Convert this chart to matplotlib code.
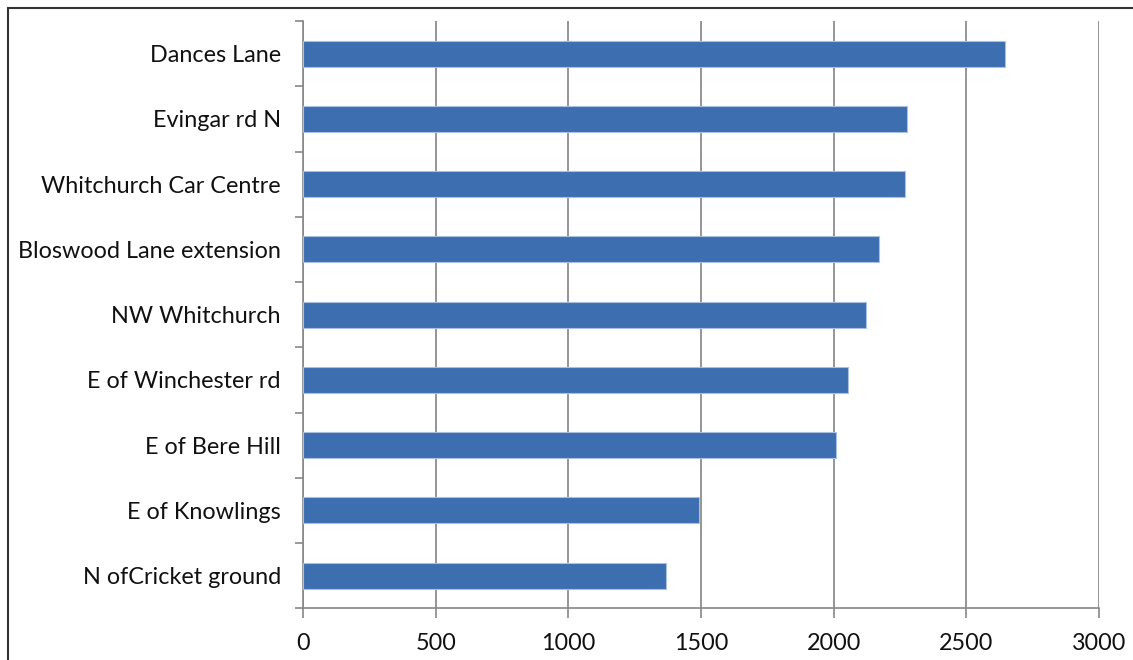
import matplotlib.pyplot as plt
import numpy as np
from matplotlib.patches import Rectangle

sites = ['Dances Lane', 'Evingar rd N', 'Whitchurch Car Centre',
         'Bloswood Lane extension', 'NW Whitchurch', 'E of Winchester rd',
         'E of Bere Hill', 'E of Knowlings', 'N ofCricket ground']
values = [2646, 2277, 2268, 2172, 2120, 2055, 2010, 1493, 1368]
xticks = [0, 500, 1000, 1500, 2000, 2500, 3000]

plt.rcParams['font.family'] = ['Lato', 'DejaVu Sans']

fig = plt.figure(figsize=(11.33, 6.6), dpi=100)
ax = fig.add_axes([303 / 1133, 1 - 608.3 / 660, (1099 - 303) / 1133, (608.3 - 21) / 660])

n = len(sites)
ypos = np.arange(n)[::-1]
ax.barh(ypos, values, height=0.4, color='#3D6EB0', edgecolor='#A9C0E0',
        linewidth=0.8, zorder=3)

ax.set_xlim(0, 3000)
ax.set_ylim(-0.5, n - 0.5)
ax.set_xticks(xticks)
ax.set_xticklabels([str(v) for v in xticks], fontsize=16.8, color='#111111')
ax.set_yticks(ypos)
ax.set_yticklabels(sites, fontsize=16.8, color='#111111')
ax.tick_params(axis='y', length=0, pad=16)
ax.set_yticks(np.arange(-0.5, n, 1), minor=True)
ax.tick_params(axis='y', which='minor', length=6, color='#888888', width=1.2)
ax.tick_params(axis='x', length=7, color='#888888', width=1.2, pad=11)

ax.grid(axis='x', color='#8c8c8c', linewidth=1.3, zorder=0)
for s in ['top', 'right']:
    ax.spines[s].set_visible(False)
for s in ['left', 'bottom']:
    ax.spines[s].set_color('#888888')
    ax.spines[s].set_linewidth(1.2)

# chart frame
fig.patches.append(Rectangle((8 / 1133, -0.1), 1.2, 1 - 8 / 660 + 0.1,
                             transform=fig.transFigure, fill=False,
                             edgecolor='#333333', linewidth=1.5))

fig.savefig('out.png', dpi=100)
